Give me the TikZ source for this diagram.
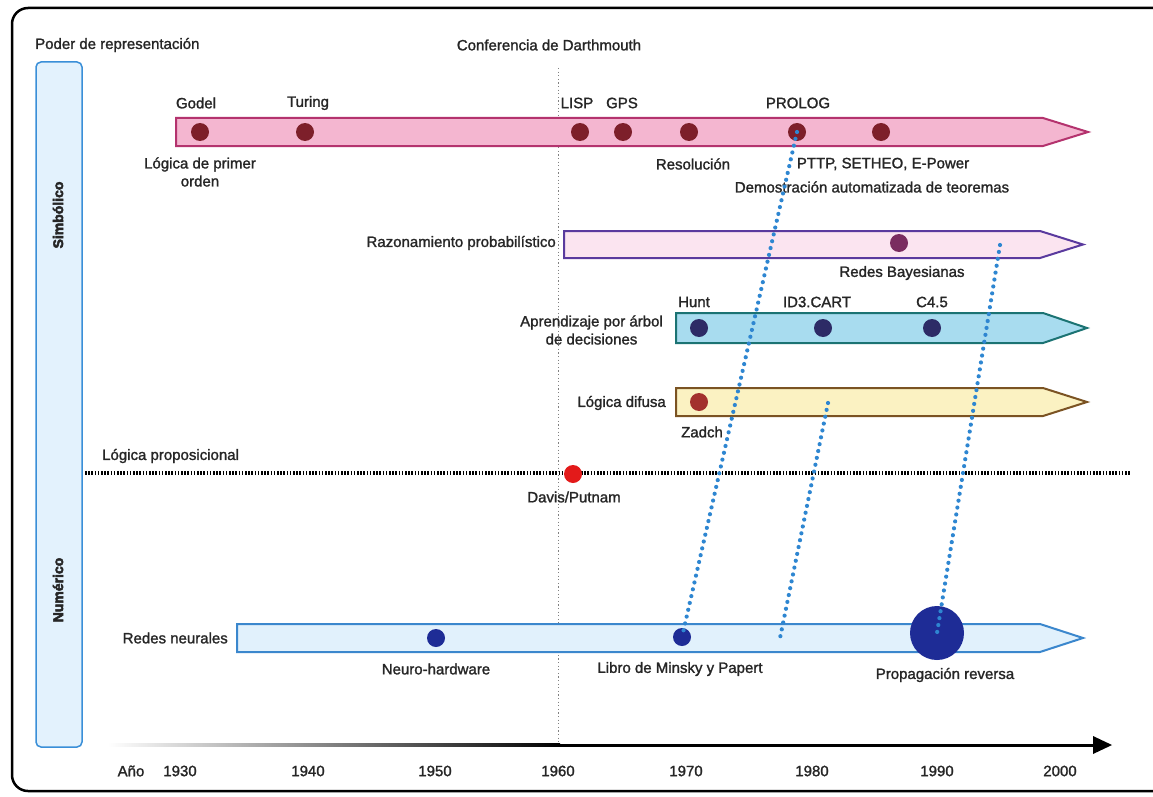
\documentclass[tikz,border=0pt]{standalone}
\usepackage{fontspec}
\setmainfont{Liberation Sans}[FakeBold=1.4]
\newfontfamily\sidefont{Liberation Sans}[FakeBold=3.5]
\definecolor{txt}{HTML}{262626}
\definecolor{pinkf}{HTML}{F4B6D0}
\definecolor{pinkl}{HTML}{B4336E}
\definecolor{dred}{HTML}{7D1F2A}
\definecolor{purpf}{HTML}{FBE4F0}
\definecolor{purpl}{HTML}{5A3A9E}
\definecolor{purpd}{HTML}{7A2C60}
\definecolor{tealf}{HTML}{A8DCEF}
\definecolor{teall}{HTML}{1B7373}
\definecolor{navy}{HTML}{2D2B66}
\definecolor{yelf}{HTML}{FBF2C2}
\definecolor{yell}{HTML}{7B5323}
\definecolor{brownd}{HTML}{A3312E}
\definecolor{nnf}{HTML}{E1F1FC}
\definecolor{nnl}{HTML}{3B87CD}
\definecolor{nnd}{HTML}{1E2C96}
\definecolor{redd}{HTML}{E31A1A}
\definecolor{bdot}{HTML}{2E86D1}
\definecolor{sidef}{HTML}{E3F2FD}
\definecolor{sidel}{HTML}{3A8FD8}
\begin{document}
\begin{tikzpicture}[x=1pt,y=-1pt,
  font=\fontsize{15}{18}\selectfont,
  lbl/.style={text=txt, inner sep=0pt},
  sidelbl/.style={text=txt, inner sep=0pt, rotate=90, font=\fontsize{14}{16}\sidefont\bfseries},
  dot/.style={circle, inner sep=0pt, minimum size=18pt},
  bar/.style={line width=2pt, line join=miter},
  conn/.style={bdot, line width=4.2pt, line cap=round, dash pattern=on 0pt off 7pt},
]
\useasboundingbox (0,0) rectangle (1153,797);
\fill[white] (0,0) rectangle (1153,797);
\begin{scope}
\clip (0,0) rectangle (1153,797);
\draw[line width=2.5pt, rounded corners=16pt] (12,8) rectangle (1180,791);
\end{scope}

% side bar
\node[draw=sidel, fill=sidef, line width=1.5pt, rounded corners=5pt, minimum width=46pt, minimum height=685pt, inner sep=0pt] (side) at (59,404.5) {};
\node[sidelbl] (simb) at (58,215) {Simbólico};
\node[sidelbl] (num) at (58,590) {Numérico};

\node[lbl, anchor=west] (poder) at (35,45) {Poder de representación};
\node[lbl] (conf) at (549,45) {Conferencia de Darthmouth};

% vertical 1960 line
\draw[gray, line width=1pt, dash pattern=on 1.2pt off 2.4pt] (558,68) -- (558,745);

% pink bar
\draw[bar, draw=pinkl, fill=pinkf] (176,118) -- (1043,118) -- (1088,132) -- (1043,146) -- (176,146) -- cycle;
\foreach \n/\x in {godel/200, turing/305, lisp/580, gps/623, resol/689, prolog/797, pttp/881}
  \node[dot, fill=dred] (\n) at (\x,132) {};
\node[lbl] (tgodel) at (196,103) {Godel};
\node[lbl] (tturing) at (308,103) {Turing};
\node[lbl] (tlisp) at (577,103) {LISP};
\node[lbl] (tgps) at (622,103) {GPS};
\node[lbl] (tprolog) at (798,103) {PROLOG};
\node[lbl, align=center] (tlog) at (200,172) {Lógica de primer\\orden};
\node[lbl] (tresol) at (693,164) {Resolución};
\node[lbl] (tpttp) at (883,164) {PTTP, SETHEO, E-Power};
\node[lbl] (tdemo) at (872,187) {Demostración automatizada de teoremas};

% purple bar
\draw[bar, draw=purpl, fill=purpf] (564,231) -- (1040,231) -- (1083,244.5) -- (1040,258) -- (564,258) -- cycle;
\node[dot, fill=purpd] (bayes) at (899,243) {};
\coordinate (pstart) at (1000,245);
\node[lbl, anchor=east] (trazon) at (556,243) {Razonamiento probabilístico};
\node[lbl] (tbayes) at (902,273) {Redes Bayesianas};

% teal bar
\draw[bar, draw=teall, fill=tealf] (676,313) -- (1043,313) -- (1087,328) -- (1043,343) -- (676,343) -- cycle;
\foreach \n/\x in {hunt/699, id3/823, c45/932}
  \node[dot, fill=navy] (\n) at (\x,328) {};
\node[lbl] (thunt) at (694,302) {Hunt};
\node[lbl] (tid3) at (817,302) {ID3.CART};
\node[lbl] (tc45) at (932,302) {C4.5};
\node[lbl, align=center, anchor=east] (tarbol) at (663,330) {Aprendizaje por árbol\\de decisiones};

% yellow bar
\draw[bar, draw=yell, fill=yelf] (676,388) -- (1043,388) -- (1087,402) -- (1043,416) -- (676,416) -- cycle;
\node[dot, fill=brownd] (zadch) at (699,402) {};
\coordinate (fstart) at (828,403);
\node[lbl, anchor=east] (tdifusa) at (666,403) {Lógica difusa};
\node[lbl] (tzadch) at (702,432) {Zadch};

% propositional logic line
\draw[black, line width=3.2pt, dash pattern=on 1.6pt off 1.6pt] (85,473) -- (1130,473);
\node[lbl, anchor=west] (tprop) at (102,456) {Lógica proposicional};
\node[dot, fill=redd] (davis) at (573,474) {};
\node[lbl] (tdavis) at (574,497) {Davis/Putnam};

% neural networks bar
\draw[bar, draw=nnl, fill=nnf] (237,624) -- (1040,624) -- (1083,638) -- (1040,652) -- (237,652) -- cycle;
\node[dot, fill=nnd] (neuro) at (436,638) {};
\node[dot, fill=nnd] (minsky) at (682,637) {};
\node[circle, inner sep=0pt, minimum size=54pt, fill=nnd] (backprop) at (937,633) {};
\coordinate (nnend) at (780,638);
\node[lbl, anchor=east] (tnn) at (228,638) {Redes neurales};
\node[lbl] (tneuro) at (436,669) {Neuro-hardware};
\node[lbl] (tminsky) at (680,669) {Libro de Minsky y Papert};
\node[lbl] (tbp) at (945,675) {Propagación reversa};

% dotted connectors
\draw[conn] (prolog.center) -- (minsky.center);
\draw[conn] (pstart) -- (backprop.center);
\draw[conn] (fstart) -- (nnend);

% year axis
\shade[left color=white, right color=black] (108,743.5) rectangle (560,746.5);
\fill[black] (559,743.5) rectangle (1095,746.5);
\fill[black] (1093,736) -- (1112,745) -- (1093,754) -- cycle;
\node[lbl] (ano) at (131,771) {Año};
\foreach \y/\x in {1930/180, 1940/308, 1950/435, 1960/558, 1970/686, 1980/812, 1990/937, 2000/1060}
  \node[lbl] (y\y) at (\x,771) {\y};
\end{tikzpicture}
\end{document}
